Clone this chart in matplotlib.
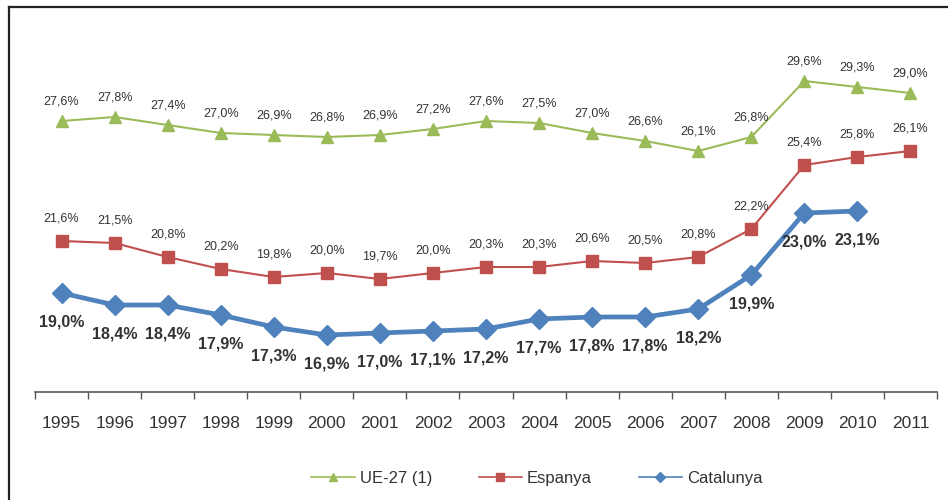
import numpy as np
import matplotlib
matplotlib.use("Agg")
import matplotlib.pyplot as plt
from matplotlib.lines import Line2D

plt.rcParams['font.family'] = ['Liberation Sans', 'DejaVu Sans']

# data
years = [str(y) for y in range(1995, 2012)]
ue27 = [27.6, 27.8, 27.4, 27.0, 26.9, 26.8, 26.9, 27.2, 27.6, 27.5, 27.0, 26.6, 26.1, 26.8, 29.6, 29.3, 29.0]
espanya = [21.6, 21.5, 20.8, 20.2, 19.8, 20.0, 19.7, 20.0, 20.3, 20.3, 20.6, 20.5, 20.8, 22.2, 25.4, 25.8, 26.1]
catalunya = [19.0, 18.4, 18.4, 17.9, 17.3, 16.9, 17.0, 17.1, 17.2, 17.7, 17.8, 17.8, 18.2, 19.9, 23.0, 23.1, np.nan]

c_ue = '#9BBB59'
c_es = '#C0504D'
c_ca = '#4F81BD'
txt = '#333333'

def fmt(v):
    return ('%.1f%%' % v).replace('.', ',')

fig = plt.figure(figsize=(9.48, 5), dpi=100)
ax = fig.add_axes([35 / 948, 1 - 392 / 500, 902 / 948, 372 / 500])

x = np.arange(len(years))
ax.plot(x, ue27, color=c_ue, lw=1.5, marker='^', ms=9, mec=c_ue, mfc=c_ue)
ax.plot(x, espanya, color=c_es, lw=1.5, marker='s', ms=8, mec=c_es, mfc=c_es)
ax.plot(x, catalunya, color=c_ca, lw=3.4, marker='D', ms=10, mec=c_ca, mfc=c_ca)

# data labels
for i in range(len(years)):
    ax.annotate(fmt(ue27[i]), (x[i], ue27[i]), xytext=(0, 14), textcoords='offset points',
                ha='center', va='center', fontsize=9, color=txt)
    ax.annotate(fmt(espanya[i]), (x[i], espanya[i]), xytext=(0, 16), textcoords='offset points',
                ha='center', va='center', fontsize=9, color=txt)
    if not np.isnan(catalunya[i]):
        ax.annotate(fmt(catalunya[i]), (x[i], catalunya[i]), xytext=(0, -21), textcoords='offset points',
                    ha='center', va='center', fontsize=11.5, fontweight='bold', color=txt)

ax.set_xlim(-0.5, len(years) - 0.5)
ax.set_ylim(27.6 - (392 - 121) / 20, 27.6 + (121 - 20) / 20)

for s in ['top', 'right', 'left']:
    ax.spines[s].set_visible(False)
ax.spines['bottom'].set_color('#555555')
ax.spines['bottom'].set_linewidth(1.2)
ax.set_yticks([])

ax.set_xticks(x)
ax.set_xticklabels(years, fontsize=12.5, color=txt)
ax.tick_params(axis='x', which='major', length=0, pad=17)
ax.set_xticks(np.arange(-0.5, len(years), 1), minor=True)
ax.tick_params(axis='x', which='minor', length=5, width=1, color='#555555', direction='out')

# legend
handles = [
    Line2D([], [], color=c_ue, lw=1.2, marker='^', ms=6),
    Line2D([], [], color=c_es, lw=1.2, marker='s', ms=6),
    Line2D([], [], color=c_ca, lw=1.2, marker='D', ms=5),
]
fig.legend(handles, ['UE-27 (1)', 'Espanya', 'Catalunya'], loc='center',
           bbox_to_anchor=(537 / 948, 1 - 478 / 500), ncol=3, frameon=False,
           fontsize=12, handlelength=2.6, handletextpad=0.3, columnspacing=2.8,
           labelcolor=txt)

# outer frame
fig.add_artist(Line2D([9 / 948, 9 / 948], [0, 1 - 7 / 500], color='#222222', lw=1.6))
fig.add_artist(Line2D([9 / 948, 1], [1 - 7 / 500, 1 - 7 / 500], color='#222222', lw=1.6))

fig.savefig('out.png', dpi=100)
